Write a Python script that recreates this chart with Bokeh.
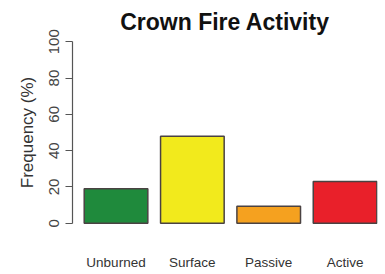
import numpy as np
from bokeh.plotting import figure
from bokeh.models import Range1d, FixedTicker, ColumnDataSource
from bokeh.embed import file_html
from bokeh.resources import INLINE

categories = ["Unburned", "Surface", "Passive", "Active"]
frequency = [19, 48, 9.3, 23]
colors = ["#1f8a3c", "#f2ea1c", "#f5a11f", "#e9202a"]
y_ticks = [0, 20, 40, 60, 80, 100]

# R barplot layout: bar width 1, space 0.2
space = 0.2
x_centers = space + 0.5 + np.arange(len(categories)) * (1 + space)

src = ColumnDataSource(dict(x=x_centers, top=frequency, color=colors, cat=categories))

p = figure(width=385, height=274, output_backend="svg", toolbar_location=None,
           x_range=Range1d(0.016, 4.81), y_range=Range1d(-4, 104),
           min_border_left=72, min_border_right=8, min_border_top=34, min_border_bottom=44)

p.vbar(x="x", top="top", bottom=0, width=1, fill_color="color", line_color="#4a4242",
       line_width=1.5, source=src)

p.title.text = "Crown Fire Activity"
p.title.text_font = "Liberation Sans"
p.title.text_font_size = "23px"
p.title.text_font_style = "bold"
p.title.text_color = "#111111"
p.title.align = "center"
p.title.standoff = 0
p.title.offset = 4

p.grid.visible = False
p.outline_line_color = None
p.background_fill_color = "white"
p.border_fill_color = "white"

xa = p.xaxis[0]
xa.ticker = FixedTicker(ticks=list(x_centers))
xa.major_label_overrides = {float(x): c for x, c in zip(x_centers, categories)}
xa.axis_line_color = None
xa.major_tick_line_color = None
xa.major_tick_out = 0
xa.major_tick_in = 0
xa.minor_tick_line_color = None
xa.major_label_standoff = 24
xa.major_label_text_font = "Liberation Sans"
xa.major_label_text_font_size = "13.5px"
xa.major_label_text_color = "#333333"

ya = p.yaxis[0]
ya.ticker = FixedTicker(ticks=y_ticks)
ya.bounds = (0, 100)
ya.axis_line_color = "#555555"
ya.axis_line_width = 1.2
ya.major_tick_line_color = "#555555"
ya.major_tick_line_width = 1.2
ya.major_tick_out = 7
ya.major_tick_in = 0
ya.minor_tick_line_color = None
ya.major_label_orientation = "vertical"
ya.major_label_standoff = 6
ya.major_label_text_font = "Liberation Sans"
ya.major_label_text_font_size = "15px"
ya.major_label_text_color = "#444444"
ya.axis_label = "Frequency (%)"
ya.axis_label_text_font = "Liberation Sans"
ya.axis_label_text_font_size = "17px"
ya.axis_label_text_font_style = "normal"
ya.axis_label_text_color = "#333333"
ya.axis_label_standoff = 10

open("out.html", "w").write(file_html(p, INLINE))
